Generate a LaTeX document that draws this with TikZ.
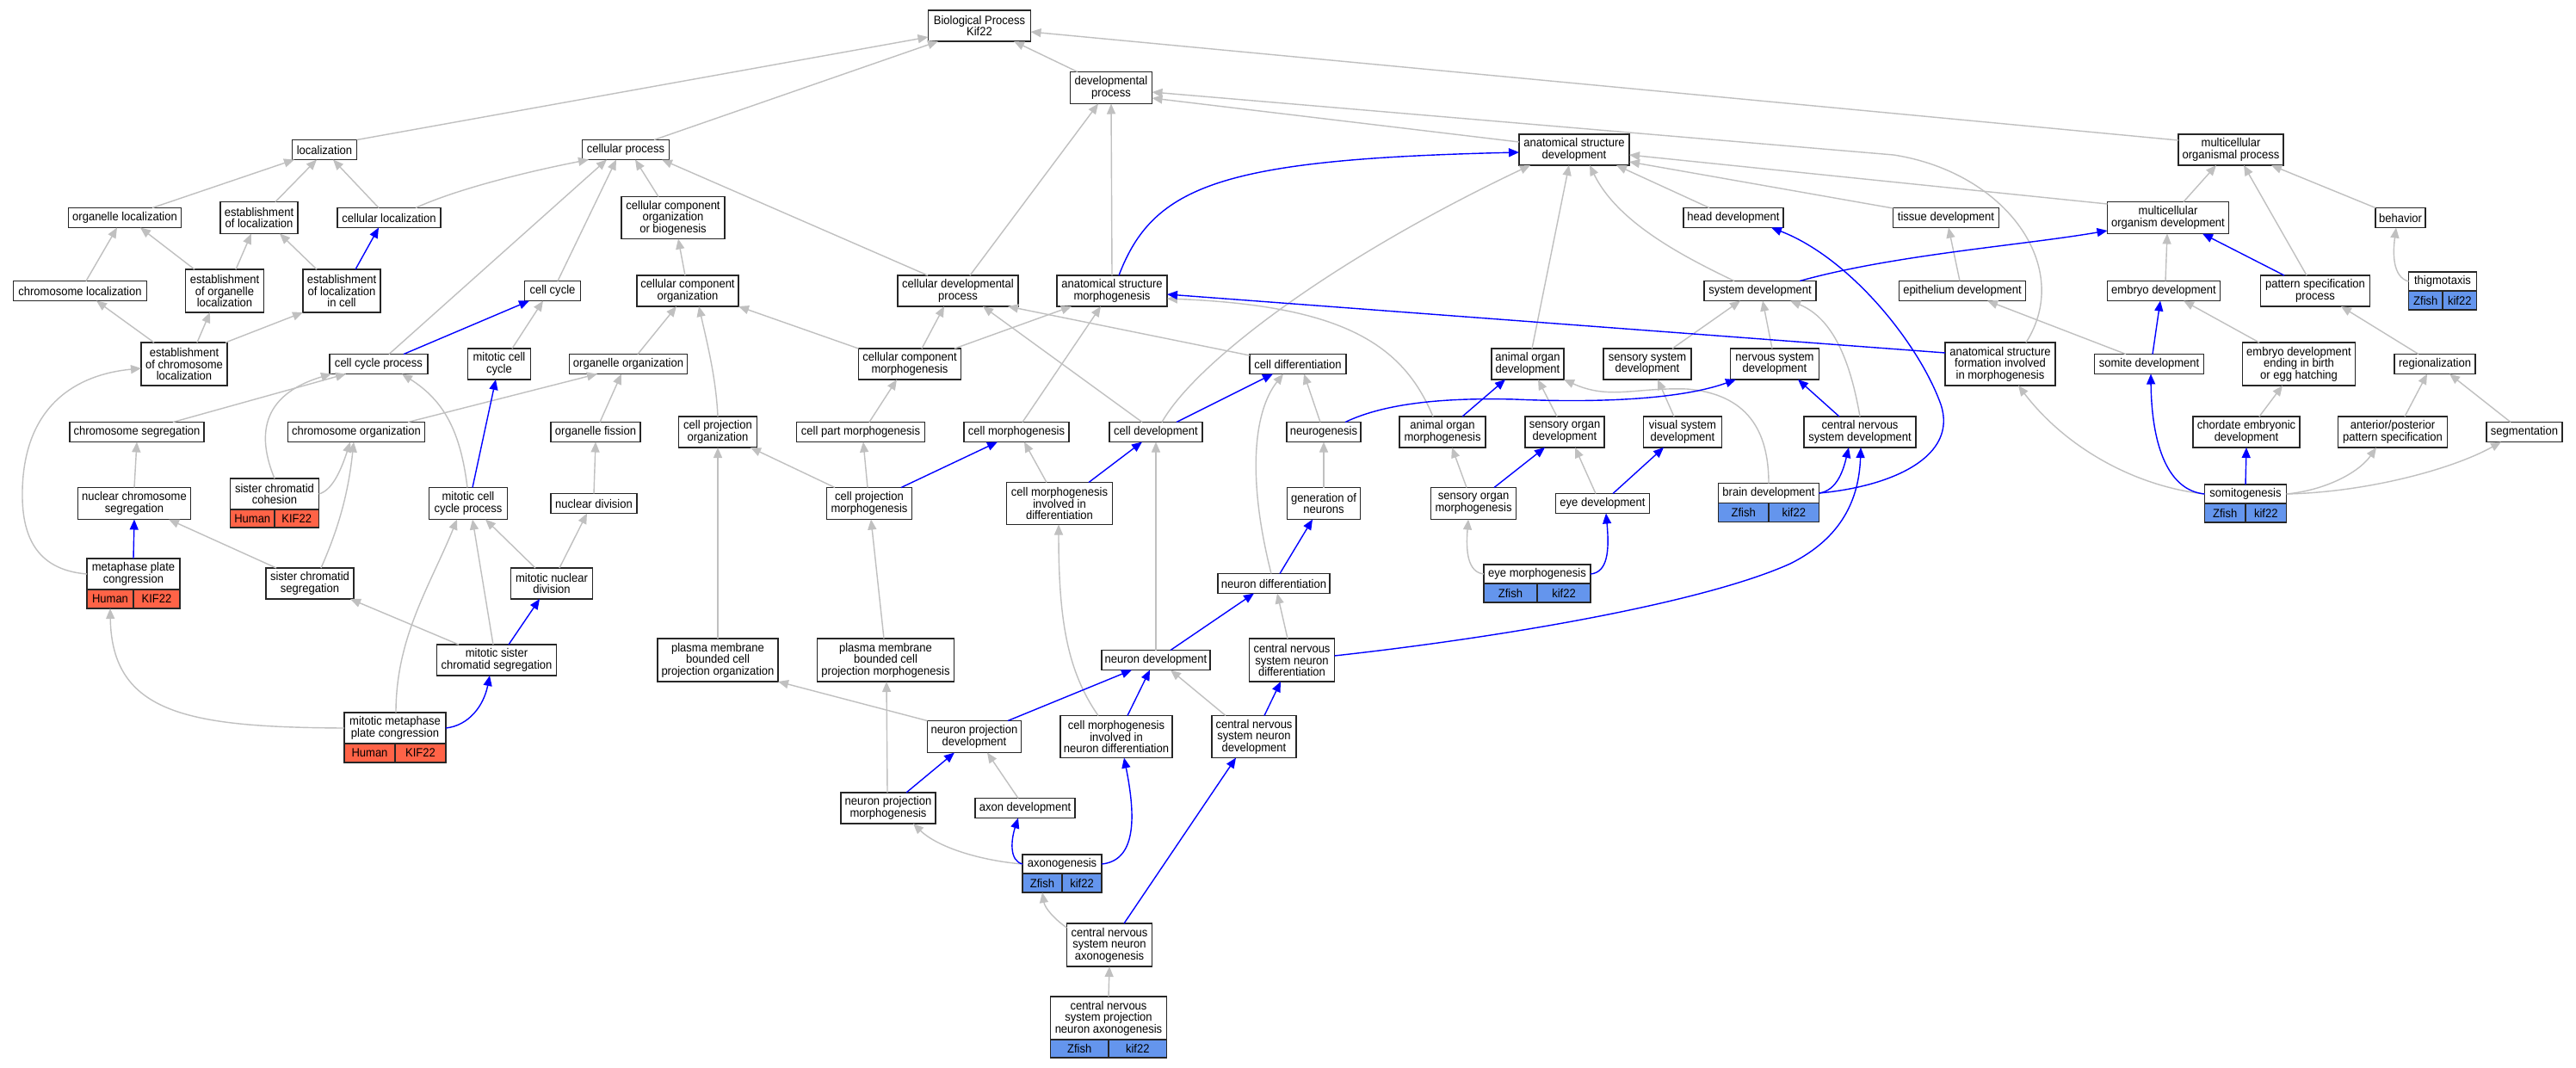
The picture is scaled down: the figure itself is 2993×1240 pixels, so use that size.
\documentclass[tikz,border=0pt]{standalone}
\usepackage{fontspec}
\newfontfamily\gofont{Liberation Sans}[FakeStretch=0.93]
\usetikzlibrary{arrows.meta,calc}
\definecolor{gvgray}{HTML}{C0C0C0}
\definecolor{tomatoc}{HTML}{FF6347}
\definecolor{cfblue}{HTML}{6495ED}
\tikzset{
 gn/.style={draw=black!85, line width=1.3pt, fill=white, inner sep=0pt, outer sep=0pt, align=center, font=\gofont\fontsize{14}{13.6}\selectfont},
 sz/.style 2 args={minimum width=#1pt, minimum height=#2pt},
 hc/.style={gn, fill=tomatoc},
 zc/.style={gn, fill=cfblue},
 ge/.style={draw=gvgray, line width=1.4pt, -{Triangle[length=12pt,width=10pt]}},
 be/.style={draw=blue, line width=1.4pt, -{Triangle[length=12pt,width=10pt]}},
}
\begin{document}
\begin{tikzpicture}[x=1pt,y=-1pt]
\fill[white] (0,0) rectangle (2993,1240);
\useasboundingbox (0,0) rectangle (2993,1240);
% nodes
\node[gn,sz={119}{36}] (bp) at (1138,30) {Biological Process\\Kif22};
\node[gn,sz={75}{23}] (loc) at (377,174) {localization};
\node[gn,sz={101}{23}] (cp) at (727,174) {cellular process};
\node[gn,sz={95}{37}] (dp) at (1291,102) {developmental\\process};
\node[gn,sz={128}{36}] (asd) at (1829,174) {anatomical structure\\development};
\node[gn,sz={122}{36}] (mop) at (2592,174) {multicellular\\organismal process};
\node[gn,sz={131}{23}] (orgloc) at (145,253) {organelle localization};
\node[gn,sz={90}{37}] (estloc) at (301,253) {establishment\\of localization};
\node[gn,sz={120}{23}] (cellloc) at (452,253) {cellular localization};
\node[gn,sz={120}{49}] (ccob) at (782,253) {cellular component\\organization\\or biogenesis};
\node[gn,sz={116}{23}] (headdev) at (2014,253) {head development};
\node[gn,sz={123}{23}] (tissdev) at (2261,253) {tissue development};
\node[gn,sz={141}{37}] (mod) at (2519,253) {multicellular\\organism development};
\node[gn,sz={58}{23}] (behav) at (2789,253) {behavior};
\node[gn,sz={155}{23}] (chrloc) at (93,338) {chromosome localization};
\node[gn,sz={91}{50}] (estorgloc) at (261,338) {establishment\\of organelle\\localization};
\node[gn,sz={90}{50}] (elic) at (397,338) {establishment\\of localization\\in cell};
\node[gn,sz={65}{23}] (cc) at (642,338) {cell cycle};
\node[gn,sz={118}{36}] (cco) at (799,338) {cellular component\\organization};
\node[gn,sz={140}{36}] (cdp) at (1113,338) {cellular developmental\\process};
\node[gn,sz={128}{36}] (asm) at (1292,338) {anatomical structure\\morphogenesis};
\node[gn,sz={130}{23}] (sd) at (2045,338) {system development};
\node[gn,sz={147}{23}] (epidev) at (2280,338) {epithelium development};
\node[gn,sz={131}{23}] (embdev) at (2514,338) {embryo development};
\node[gn,sz={127}{36}] (psp) at (2690,338) {pattern specification\\process};
\node[gn,sz={79}{22}] (thig) at (2838,327) {thigmotaxis};
\node[gn,sz={100}{50}] (ecl) at (214,423) {establishment\\of chromosome\\localization};
\node[gn,sz={114}{23}] (ccp) at (440,423) {cell cycle process};
\node[gn,sz={73}{36}] (mcc) at (580,423) {mitotic cell\\cycle};
\node[gn,sz={137}{23}] (orgorg) at (730,423) {organelle organization};
\node[gn,sz={119}{36}] (ccm) at (1057,423) {cellular component\\morphogenesis};
\node[gn,sz={112}{23}] (celldiff) at (1508,423) {cell differentiation};
\node[gn,sz={84}{36}] (aod) at (1775,423) {animal organ\\development};
\node[gn,sz={102}{36}] (ssd) at (1914,423) {sensory system\\development};
\node[gn,sz={103}{36}] (nsd) at (2062,423) {nervous system\\development};
\node[gn,sz={128}{50}] (asfim) at (2324,423) {anatomical structure\\formation involved\\in morphogenesis};
\node[gn,sz={127}{23}] (somdev) at (2497,423) {somite development};
\node[gn,sz={131}{50}] (edeb) at (2671,423) {embryo development\\ending in birth\\or egg hatching};
\node[gn,sz={94}{23}] (region) at (2829,423) {regionalization};
\node[gn,sz={156}{23}] (chrseg) at (159,502) {chromosome segregation};
\node[gn,sz={159}{23}] (chrorg) at (414,502) {chromosome organization};
\node[gn,sz={104}{23}] (orgfis) at (692,502) {organelle fission};
\node[gn,sz={91}{36}] (cpo) at (834,502) {cell projection\\organization};
\node[gn,sz={149}{23}] (cpm) at (1000,502) {cell part morphogenesis};
\node[gn,sz={122}{23}] (cm) at (1181,502) {cell morphogenesis};
\node[gn,sz={108}{23}] (cd) at (1343,502) {cell development};
\node[gn,sz={86}{23}] (neurog) at (1538,502) {neurogenesis};
\node[gn,sz={100}{36}] (aom) at (1676,502) {animal organ\\morphogenesis};
\node[gn,sz={92}{36}] (sod) at (1818,502) {sensory organ\\development};
\node[gn,sz={91}{36}] (vsd) at (1955,502) {visual system\\development};
\node[gn,sz={130}{36}] (cnsd) at (2161,502) {central nervous\\system development};
\node[gn,sz={124}{36}] (ced) at (2610,502) {chordate embryonic\\development};
\node[gn,sz={127}{36}] (app) at (2780,502) {anterior/posterior\\pattern specification};
\node[gn,sz={88}{23}] (segm) at (2933,502) {segmentation};
\node[gn,sz={131}{37}] (ncs) at (156,585) {nuclear chromosome\\segregation};
\node[gn,sz={103}{36}] (scc) at (319,574) {sister chromatid\\cohesion};
\node[gn,sz={91}{37}] (mccp) at (544,585) {mitotic cell\\cycle process};
\node[gn,sz={100}{23}] (nucdiv) at (690,585) {nuclear division};
\node[gn,sz={99}{37}] (cpmorph) at (1010,585) {cell projection\\morphogenesis};
\node[gn,sz={123}{49}] (cmid) at (1231,585) {cell morphogenesis\\involved in\\differentiation};
\node[gn,sz={85}{37}] (gon) at (1538,585) {generation of\\neurons};
\node[gn,sz={99}{37}] (som) at (1712,585) {sensory organ\\morphogenesis};
\node[gn,sz={109}{23}] (eyedev) at (1862,585) {eye development};
\node[gn,sz={117}{23}] (brain) at (2055,573) {brain development};
\node[gn,sz={95}{22}] (somito) at (2609,574) {somitogenesis};
\node[gn,sz={108}{36}] (mpc) at (155,667) {metaphase plate\\congression};
\node[gn,sz={102}{36}] (scs) at (360,678) {sister chromatid\\segregation};
\node[gn,sz={95}{36}] (mnd) at (641,678) {mitotic nuclear\\division};
\node[gn,sz={124}{22}] (eyem) at (1786,667) {eye morphogenesis};
\node[gn,sz={130}{23}] (ndiff) at (1480,678) {neuron differentiation};
\node[gn,sz={139}{36}] (mscs) at (577,767) {mitotic sister\\chromatid segregation};
\node[gn,sz={140}{50}] (pmbcpo) at (834,767) {plasma membrane\\bounded cell\\projection organization};
\node[gn,sz={159}{50}] (pmbcpm) at (1029,767) {plasma membrane\\bounded cell\\projection morphogenesis};
\node[gn,sz={126}{23}] (ndev) at (1343,767) {neuron development};
\node[gn,sz={99}{50}] (cnsnd) at (1501,767) {central nervous\\system neuron\\differentiation};
\node[gn,sz={118}{36}] (mmpc) at (459,846) {mitotic metaphase\\plate congression};
\node[gn,sz={109}{37}] (npd) at (1132,856) {neuron projection\\development};
\node[gn,sz={130}{49}] (cmind) at (1297,856) {cell morphogenesis\\involved in\\neuron differentiation};
\node[gn,sz={98}{49}] (cnsndev) at (1457,856) {central nervous\\system neuron\\development};
\node[gn,sz={110}{36}] (npm) at (1032,939) {neuron projection\\morphogenesis};
\node[gn,sz={116}{23}] (axdev) at (1191,939) {axon development};
\node[gn,sz={92}{22}] (axon) at (1234,1004) {axonogenesis};
\node[gn,sz={99}{50}] (cnsna) at (1289,1098) {central nervous\\system neuron\\axonogenesis};
\node[gn,sz={135}{50}] (cnspna) at (1288,1183) {central nervous\\system projection\\neuron axonogenesis};
% gene rows
\node[hc,sz={51.5}{21},anchor=north east] (sccH) at (scc.south) {Human};
\node[hc,sz={51.5}{21},anchor=north west] (sccK) at (scc.south) {KIF22};
\node[hc,sz={54}{22},anchor=north east] (mpcH) at (mpc.south) {Human};
\node[hc,sz={54}{22},anchor=north west] (mpcK) at (mpc.south) {KIF22};
\node[hc,sz={59}{22},anchor=north east] (mmpcH) at (mmpc.south) {Human};
\node[hc,sz={59}{22},anchor=north west] (mmpcK) at (mmpc.south) {KIF22};
\node[zc,sz={58.5}{22},anchor=north east] (brZ) at (brain.south) {Zfish};
\node[zc,sz={58.5}{22},anchor=north west] (brK) at (brain.south) {kif22};
\node[zc,sz={47.5}{22},anchor=north east] (soZ) at (somito.south) {Zfish};
\node[zc,sz={47.5}{22},anchor=north west] (soK) at (somito.south) {kif22};
\node[zc,sz={62}{22},anchor=north east] (eyZ) at (eyem.south) {Zfish};
\node[zc,sz={62}{22},anchor=north west] (eyK) at (eyem.south) {kif22};
\node[zc,sz={39.5}{22},anchor=north east] (thZ) at (thig.south) {Zfish};
\node[zc,sz={39.5}{22},anchor=north west] (thK) at (thig.south) {kif22};
\node[zc,sz={46}{22},anchor=north east] (axZ) at (axon.south) {Zfish};
\node[zc,sz={46}{22},anchor=north west] (axK) at (axon.south) {kif22};
\node[zc,sz={67.5}{21},anchor=north east] (cnZ) at (cnspna.south) {Zfish};
\node[zc,sz={67.5}{21},anchor=north west] (cnK) at (cnspna.south) {kif22};
% gray edges
\draw[ge] ($(orgloc.north)+(32,0)$) -- ($(loc.south)+(-35,0)$);
\draw[ge] ($(estloc.north)+(19,0)$) -- ($(loc.south)+(-9,0)$);
\draw[ge] ($(cellloc.north)+(-12,0)$) -- ($(loc.south)+(10,0)$);
\draw[ge] ($(cellloc.north)+(31,0)$) .. controls (530,220) and (610,200) .. ($(cp.south)+(-43,0)$);
\draw[ge] ($(chrloc.north)+(7,0)$) -- ($(orgloc.south)+(-9,0)$);
\draw[ge] ($(estorgloc.north)+(-35,0)$) -- ($(orgloc.south)+(18,0)$);
\draw[ge] ($(estorgloc.north)+(13,0)$) -- ($(estloc.south)+(-9,0)$);
\draw[ge] ($(elic.north)+(-29,0)$) -- ($(estloc.south)+(24,0)$);
\draw[ge] ($(ecl.north)+(-35,0)$) -- ($(chrloc.south)+(19,0)$);
\draw[ge] ($(ecl.north)+(15,0)$) -- ($(estorgloc.south)+(-17,0)$);
\draw[ge] ($(ecl.north east)+(-2,0)$) -- (elic.south west);
\draw[ge] ($(ccp.north)+(12,0)$) -- ($(cp.south)+(-22,0)$);
\draw[ge] ($(mcc.north)+(15,0)$) -- ($(cc.south)+(-11,0)$);
\draw[ge] ($(cc.north)+(6,0)$) -- ($(cp.south)+(-11,0)$);
\draw[ge] (loc.north east) -- ($(bp.west)+(0,13)$);
\draw[ge] ($(cp.north)+(33,0)$) -- ($(bp.south)+(-48,0)$);
\draw[ge] ($(dp.north)+(-39,0)$) -- ($(bp.south)+(40,0)$);
\draw[ge] ($(mop.west)+(0,-11)$) -- ($(bp.east)+(0,7)$);
\draw[ge] ($(asd.west)+(0,-9)$) -- ($(dp.east)+(0,12)$);
\draw[ge] ($(asfim.north)+(30,0)$) .. controls (2410,310) and (2330,200) .. (2200,180) -- ($(dp.east)+(0,5)$);
\draw[ge] ($(cdp.north)+(14,0)$) -- ($(dp.south)+(-15,0)$);
\draw[ge] (asm.north) -- (dp.south);
\draw[ge] ($(cdp.north)+(-35,0)$) -- ($(cp.south)+(42,0)$);
\draw[ge] ($(ccob.north)+(-17,0)$) -- ($(cp.south)+(11,0)$);
\draw[ge] ($(cco.north)+(-3,0)$) -- ($(ccob.south)+(6,0)$);
\draw[ge] ($(ccm.north)+(14,0)$) -- ($(cdp.south)+(-16,0)$);
\draw[ge] ($(ccm.north)+(52,0)$) -- ($(asm.south)+(-47,0)$);
\draw[ge] (ccm.north west) -- (cco.south east);
\draw[ge] ($(cd.north)+(-16,0)$) -- ($(cdp.south)+(29,0)$);
\draw[ge] ($(celldiff.west)+(0,-10)$) -- ($(cdp.south)+(58,0)$);
\draw[ge] ($(cm.north)+(7,0)$) -- ($(asm.south)+(-13,0)$);
\draw[ge] ($(cd.north)+(7,0)$) .. controls (1390,420) and (1550,300) .. ($(asd.south)+(-51,0)$);
\draw[ge] ($(aod.north)+(5,0)$) -- ($(asd.south)+(-6,0)$);
\draw[ge] ($(sd.north)+(-30,0)$) .. controls (1960,300) and (1880,260) .. ($(asd.south)+(18,0)$);
\draw[ge] ($(headdev.north)+(-28,0)$) -- ($(asd.south)+(49,0)$);
\draw[ge] ($(mod.west)+(0,-16)$) -- ($(asd.east)+(0,6)$);
\draw[ge] ($(tissdev.west)+(0,-11)$) -- ($(asd.east)+(0,14)$);
\draw[ge] ($(mod.north)+(18,0)$) -- ($(mop.south)+(-17,0)$);
\draw[ge] ($(psp.north)+(-10,0)$) -- ($(mop.south)+(15,0)$);
\draw[ge] (behav.north west) -- ($(mop.south)+(47,0)$);
\draw[ge] (thig.west) .. controls (2780,322) and (2780,295) .. ($(behav.south)+(-5,0)$);
\draw[ge] ($(epidev.north)+(-3,0)$) -- ($(tissdev.south)+(3,0)$);
\draw[ge] ($(embdev.north)+(2,0)$) -- ($(mod.south)+(-1,0)$);
\draw[ge] ($(somdev.north)+(-27,0)$) -- ($(epidev.south)+(29,0)$);
\draw[ge] ($(edeb.north)+(-46,0)$) -- ($(embdev.south)+(23,0)$);
\draw[ge] ($(region.north)+(-19,0)$) -- ($(psp.south)+(30,0)$);
\draw[ge] ($(aom.north)+(-11,0)$) .. controls (1630,400) and (1560,355) .. ($(asm.east)+(0,9)$);
\draw[ge] ($(ndiff.north)+(-3,0)$) .. controls (1450,560) and (1455,480) .. ($(celldiff.south)+(-17,0)$);
\draw[ge] ($(neurog.north)+(-4,0)$) -- ($(celldiff.south)+(7,0)$);
\draw[ge] ($(sod.north)+(-9,0)$) -- ($(aod.south)+(12,0)$);
\draw[ge] (brain.north) .. controls (2055,500) and (2030,458) .. (1960,452) .. controls (1900,450) and (1870,465) .. (aod.south east);
\draw[ge] ($(ssd.north)+(29,0)$) -- ($(sd.south)+(-23,0)$);
\draw[ge] ($(nsd.north)+(-3,0)$) -- ($(sd.south)+(3,0)$);
\draw[ge] (cnsd.north) .. controls (2150,420) and (2130,370) .. ($(sd.south)+(35,0)$);
\draw[ge] ($(som.north)+(-8,0)$) -- ($(aom.south)+(11,0)$);
\draw[ge] ($(eyedev.north)+(-8,0)$) -- ($(sod.south)+(12,0)$);
\draw[ge] ($(vsd.north)+(-10,0)$) -- ($(ssd.south)+(12,0)$);
\draw[ge] (eyem.west) .. controls (1705,665) and (1703,640) .. ($(som.south)+(-6,0)$);
\draw[ge] (gon.north) -- (neurog.south);
\draw[ge] ($(cnsnd.north)+(-5,0)$) -- ($(ndiff.south)+(4,0)$);
\draw[ge] ($(cnsndev.north)+(-33,0)$) -- ($(ndev.south)+(17,0)$);
\draw[ge] (ndev.north) -- (cd.south);
\draw[ge] ($(cmid.north)+(-15,0)$) -- ($(cm.south)+(9,0)$);
\draw[ge] ($(cpmorph.north)+(-40,0)$) -- ($(cpo.south)+(38,0)$);
\draw[ge] ($(cpmorph.north)+(-2,0)$) -- ($(cpm.south)+(3,0)$);
\draw[ge] ($(cpm.north)+(10,0)$) -- ($(ccm.south)+(-15,0)$);
\draw[ge] (cpo.north) .. controls (832,440) and (822,400) .. ($(cco.south)+(13,0)$);
\draw[ge] ($(orgorg.north)+(11,0)$) -- ($(cco.south)+(-13,0)$);
\draw[ge] (pmbcpo.north) -- (cpo.south);
\draw[ge] ($(pmbcpm.north)+(-2,0)$) -- ($(cpmorph.south)+(2,0)$);
\draw[ge] (npd.north west) -- (pmbcpo.south east);
\draw[ge] ($(cmind.north)+(-21,0)$) .. controls (1240,780) and (1230,720) .. ($(cmid.south)+(-1,0)$);
\draw[ge] ($(npm.north)+(-1,0)$) -- ($(pmbcpm.south)+(1,0)$);
\draw[ge] ($(axdev.north)+(-8,0)$) -- ($(npd.south)+(15,0)$);
\draw[ge] (axon.west) .. controls (1140,1000) and (1090,985) .. ($(npm.south)+(29,0)$);
\draw[ge] ($(cnsna.north west)+(0,5)$) .. controls (1225,1068) and (1214,1055) .. (axZ.south);
\draw[ge] (cnspna.north) -- (cnsna.south);
\draw[ge] (mpc.west) .. controls (40,662) and (25,620) .. (26,570) .. controls (28,470) and (90,435) .. ($(ecl.west)+(0,5)$);
\draw[ge] ($(chrseg.north)+(42,0)$) -- ($(ccp.south)+(-38,0)$);
\draw[ge] (scc.north) .. controls (300,510) and (300,460) .. ($(ccp.south west)+(2,0)$);
\draw[ge] ($(mccp.north)+(-1,0)$) .. controls (535,500) and (515,465) .. ($(ccp.south)+(27,0)$);
\draw[ge] ($(chrorg.north)+(60,0)$) -- ($(orgorg.south)+(-36,0)$);
\draw[ge] ($(orgfis.north)+(5,0)$) -- ($(orgorg.south)+(-8,0)$);
\draw[ge] (ncs.north) -- (chrseg.south);
\draw[ge] (scc.east) .. controls (385,570) and (395,550) .. ($(chrorg.south)+(-7,0)$);
\draw[ge] ($(scs.north)+(13,0)$) .. controls (395,610) and (405,570) .. ($(chrorg.south)+(-3,0)$);
\draw[ge] (nucdiv.north) -- (orgfis.south);
\draw[ge] ($(scs.north)+(-39,0)$) -- ($(ncs.south)+(40,0)$);
\draw[ge] ($(mnd.north)+(-19,0)$) -- ($(mccp.south)+(20,0)$);
\draw[ge] ($(mnd.north)+(9,0)$) -- ($(nucdiv.south)+(-8,0)$);
\draw[ge] ($(mscs.north)+(-44,0)$) -- ($(scs.south)+(47,0)$);
\draw[ge] ($(mscs.north)+(-4,0)$) -- ($(mccp.south)+(5,0)$);
\draw[ge] (mmpc.west) .. controls (220,845) and (130,830) .. (mpcH.south);
\draw[ge] ($(mmpc.north)+(1,0)$) .. controls (460,740) and (500,680) .. ($(mccp.south)+(-13,0)$);
\draw[ge] (somito.west) .. controls (2480,565) and (2400,520) .. ($(asfim.south)+(21,0)$);
\draw[ge] (somito.east) .. controls (2700,570) and (2740,550) .. ($(app.south)+(-19,0)$);
\draw[ge] (somito.east) .. controls (2750,572) and (2850,545) .. ($(segm.south)+(-27,0)$);
\draw[ge] ($(ced.north)+(15,0)$) -- ($(edeb.south)+(-19,0)$);
\draw[ge] ($(app.north)+(14,0)$) -- ($(region.south)+(-9,0)$);
\draw[ge] ($(segm.north)+(-16,0)$) -- ($(region.south)+(17,0)$);
% blue edges
\draw[be] ($(elic.north)+(16,0)$) -- ($(cellloc.south)+(-12,0)$);
\draw[be] ($(ccp.north)+(29,0)$) -- ($(cc.south)+(-27,0)$);
\draw[be] ($(asm.north)+(8,0)$) .. controls (1340,215) and (1420,185) .. ($(asd.west)+(0,3)$);
\draw[be] ($(psp.north)+(-36,0)$) -- ($(mod.south)+(40,0)$);
\draw[be] ($(somdev.north)+(4,0)$) -- ($(embdev.south)+(-4,0)$);
\draw[be] ($(asfim.west)+(0,-13)$) -- ($(asm.east)+(0,4)$);
\draw[be] ($(cd.north)+(24,0)$) -- ($(celldiff.south)+(-29,0)$);
\draw[be] ($(neurog.north)+(25,0)$) .. controls (1610,468) and (1680,462) .. (1760,464) .. controls (1850,468) and (1950,465) .. ($(nsd.south)+(-45,0)$);
\draw[be] ($(aom.north)+(23,0)$) -- ($(aod.south)+(-26,0)$);
\draw[be] ($(cnsd.north)+(-24,0)$) -- ($(nsd.south)+(27,0)$);
\draw[be] (brain.east) .. controls (2135,570) and (2142,545) .. ($(cnsd.south)+(-13,0)$);
\draw[be] (brain.east) .. controls (2200,565) and (2275,530) .. (2255,470) .. controls (2230,400) and (2150,300) .. ($(headdev.south)+(44,0)$);
\draw[be] ($(sd.north)+(46,0)$) .. controls (2200,296) and (2350,285) .. ($(mod.west)+(0,15)$);
\draw[be] ($(som.north)+(24,0)$) -- ($(sod.south)+(-23,0)$);
\draw[be] ($(eyedev.north)+(12,0)$) -- ($(vsd.south)+(-22,0)$);
\draw[be] (eyem.east) .. controls (1868,665) and (1870,640) .. ($(eyedev.south)+(4,0)$);
\draw[be] ($(ndiff.north)+(7,0)$) -- ($(gon.south)+(-13,0)$);
\draw[be] ($(cnsnd.east)+(0,-5)$) .. controls (1750,740) and (1980,700) .. (2080,655) .. controls (2140,625) and (2160,580) .. ($(cnsd.south)+(1,0)$);
\draw[be] ($(cnsndev.north)+(12,0)$) -- ($(cnsnd.south)+(-13,0)$);
\draw[be] ($(ndev.north)+(17,0)$) -- ($(ndiff.south)+(-23,0)$);
\draw[be] ($(cmid.north)+(34,0)$) -- ($(cd.south)+(-16,0)$);
\draw[be] ($(cpmorph.north)+(37,0)$) -- ($(cm.south)+(-22,0)$);
\draw[be] ($(npd.north)+(39,0)$) -- ($(ndev.south)+(-28,0)$);
\draw[be] ($(cmind.north)+(13,0)$) -- ($(ndev.south)+(-7,0)$);
\draw[be] ($(npm.north)+(21,0)$) -- ($(npd.south)+(-23,0)$);
\draw[be] (axon.west) .. controls (1172,1000) and (1175,975) .. ($(axdev.south)+(-8,0)$);
\draw[be] (axon.east) .. controls (1320,1000) and (1320,950) .. ($(cmind.south)+(9,0)$);
\draw[be] ($(cnsna.north)+(17,0)$) -- ($(cnsndev.south)+(-21,0)$);
\draw[be] ($(mccp.north)+(5,0)$) -- ($(mcc.south)+(-4,0)$);
\draw[be] (mpc.north) -- (ncs.south);
\draw[be] ($(mscs.north)+(14,0)$) -- ($(mnd.south)+(-14,0)$);
\draw[be] (mmpc.east) .. controls (545,843) and (562,820) .. ($(mscs.south)+(-8,0)$);
\draw[be] (somito.west) .. controls (2520,570) and (2500,520) .. ($(somdev.south)+(2,0)$);
\draw[be] (somito.north) -- (ced.south);
\end{tikzpicture}
\end{document}
